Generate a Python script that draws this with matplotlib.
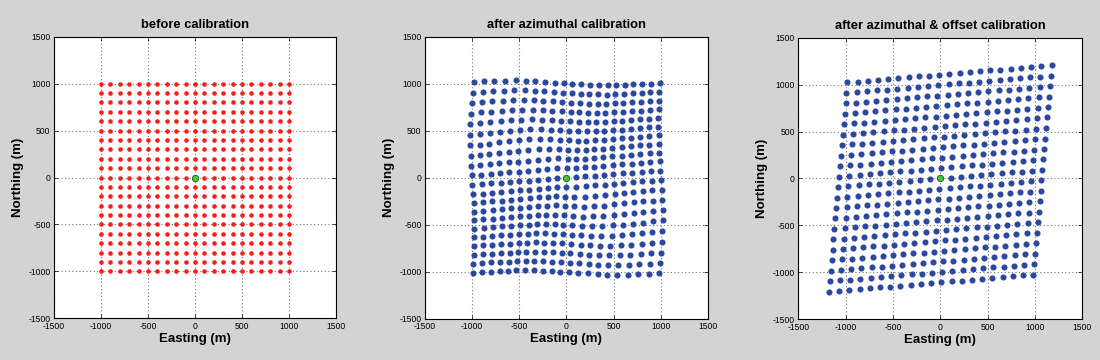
import numpy as np
import matplotlib
matplotlib.use("Agg")
import matplotlib.pyplot as plt

plt.rcParams.update({"font.family": "Liberation Sans", "axes.unicode_minus": False})

BG = "#d3d3d3"
RED = "#ff1a1a"
BLUE = "#2b479f"
GREEN = "#4cbf3c"

# receiver grid before calibration (m)
grid_x = [-1000, -900, -800, -700, -600, -500, -400, -300, -200, -100, 0,
          100, 200, 300, 400, 500, 600, 700, 800, 900, 1000]
grid_y = [1000, 900, 800, 700, 600, 500, 400, 300, 200, 100, 0,
          -100, -200, -300, -400, -500, -600, -700, -800, -900, -1000]

# after azimuthal calibration, one list per grid row (top to bottom)
az_x = [
    [-983, -872, -764, -650, -538, -431, -331, -230, -126, -28, 64, 156, 250, 347, 438, 531, 617, 709, 800, 898, 990],
    [-995, -885, -774, -665, -552, -442, -338, -237, -134, -35, 57, 150, 244, 340, 431, 521, 610, 702, 798, 891, 986],
    [-1002, -896, -787, -676, -566, -453, -345, -245, -142, -42, 51, 143, 239, 332, 424, 512, 603, 699, 792, 887, 983],
    [-1012, -904, -798, -688, -578, -467, -355, -252, -150, -49, 45, 137, 233, 325, 415, 505, 599, 693, 788, 884, 980],
    [-1019, -913, -806, -699, -590, -480, -368, -258, -158, -56, 38, 131, 226, 318, 407, 500, 594, 689, 785, 881, 977],
    [-1022, -918, -814, -707, -600, -492, -382, -269, -166, -63, 32, 125, 219, 309, 400, 495, 590, 686, 782, 879, 977],
    [-1021, -920, -818, -714, -609, -501, -393, -283, -172, -71, 25, 119, 212, 302, 396, 491, 587, 684, 782, 880, 978],
    [-1017, -917, -816, -715, -613, -509, -403, -295, -184, -79, 19, 113, 203, 297, 392, 489, 586, 684, 782, 881, 980],
    [-1012, -912, -812, -711, -611, -511, -409, -304, -197, -86, 13, 106, 198, 294, 391, 489, 587, 686, 785, 885, 984],
    [-1005, -905, -805, -705, -606, -506, -406, -306, -204, -98, 6, 99, 195, 294, 393, 492, 591, 691, 790, 890, 989],
    [-997, -897, -798, -698, -598, -499, -399, -299, -199, -100, 0, 100, 199, 299, 399, 499, 598, 698, 798, 897, 997],
    [-989, -890, -790, -691, -591, -492, -393, -294, -195, -99, -6, 98, 204, 306, 406, 506, 606, 705, 805, 905, 1005],
    [-984, -885, -785, -686, -587, -489, -391, -294, -198, -106, -13, 86, 197, 304, 409, 511, 611, 711, 812, 912, 1012],
    [-980, -881, -782, -684, -586, -489, -392, -297, -203, -113, -19, 79, 184, 295, 403, 509, 613, 715, 816, 917, 1017],
    [-978, -880, -782, -684, -587, -491, -396, -302, -212, -119, -25, 71, 172, 283, 393, 501, 609, 714, 818, 920, 1021],
    [-977, -879, -782, -686, -590, -495, -400, -309, -219, -125, -32, 63, 166, 269, 382, 492, 600, 707, 814, 918, 1022],
    [-977, -881, -785, -689, -594, -500, -407, -318, -226, -131, -38, 56, 158, 258, 368, 480, 590, 699, 806, 913, 1019],
    [-980, -884, -788, -693, -599, -505, -415, -325, -233, -137, -45, 49, 150, 252, 355, 467, 578, 688, 798, 904, 1012],
    [-983, -887, -792, -699, -603, -512, -424, -332, -239, -143, -51, 42, 142, 245, 345, 453, 566, 676, 787, 896, 1002],
    [-986, -891, -798, -702, -610, -521, -431, -340, -244, -150, -57, 35, 134, 237, 338, 442, 552, 665, 774, 885, 995],
    [-990, -898, -800, -709, -617, -531, -438, -347, -250, -156, -64, 28, 126, 230, 331, 431, 538, 650, 764, 872, 983],
]
az_y = [
    [1016, 1025, 1027, 1033, 1035, 1032, 1025, 1018, 1012, 1005, 998, 993, 989, 985, 984, 984, 989, 994, 1000, 1002, 1010],
    [905, 915, 923, 926, 930, 930, 925, 919, 912, 905, 898, 893, 889, 886, 885, 888, 893, 899, 902, 909, 916],
    [797, 804, 813, 820, 824, 827, 825, 819, 812, 805, 798, 793, 789, 787, 787, 792, 797, 801, 808, 815, 821],
    [683, 695, 703, 711, 718, 723, 724, 719, 712, 705, 699, 694, 690, 689, 691, 696, 701, 707, 714, 720, 728],
    [568, 580, 592, 601, 610, 616, 620, 619, 612, 606, 599, 594, 591, 590, 595, 600, 606, 613, 620, 628, 636],
    [453, 465, 477, 489, 500, 508, 514, 517, 512, 506, 499, 494, 492, 495, 500, 505, 512, 519, 527, 535, 543],
    [343, 353, 362, 375, 387, 399, 407, 412, 413, 406, 399, 395, 394, 399, 404, 411, 418, 427, 435, 443, 452],
    [236, 244, 253, 262, 272, 284, 296, 305, 310, 306, 299, 295, 298, 303, 310, 318, 326, 335, 343, 352, 361],
    [127, 136, 145, 154, 163, 171, 181, 193, 203, 206, 200, 197, 202, 209, 217, 226, 235, 243, 252, 260, 268],
    [25, 33, 40, 48, 56, 63, 73, 81, 91, 102, 100, 101, 109, 117, 126, 134, 143, 151, 159, 168, 176],
    [-76, -68, -61, -53, -46, -38, -30, -23, -15, -8, 0, 8, 15, 23, 30, 38, 46, 53, 61, 68, 76],
    [-176, -168, -159, -151, -143, -134, -126, -117, -109, -101, -100, -102, -91, -81, -73, -63, -56, -48, -40, -33, -25],
    [-268, -260, -252, -243, -235, -226, -217, -209, -202, -197, -200, -206, -203, -193, -181, -171, -163, -154, -145, -136, -127],
    [-361, -352, -343, -335, -326, -318, -310, -303, -298, -295, -299, -306, -310, -305, -296, -284, -272, -262, -253, -244, -236],
    [-452, -443, -435, -427, -418, -411, -404, -399, -394, -395, -399, -406, -413, -412, -407, -399, -387, -375, -362, -353, -343],
    [-543, -535, -527, -519, -512, -505, -500, -495, -492, -494, -499, -506, -512, -517, -514, -508, -500, -489, -477, -465, -453],
    [-636, -628, -620, -613, -606, -600, -595, -590, -591, -594, -599, -606, -612, -619, -620, -616, -610, -601, -592, -580, -568],
    [-728, -720, -714, -707, -701, -696, -691, -689, -690, -694, -699, -705, -712, -719, -724, -723, -718, -711, -703, -695, -683],
    [-821, -815, -808, -801, -797, -792, -787, -787, -789, -793, -798, -805, -812, -819, -825, -827, -824, -820, -813, -804, -797],
    [-916, -909, -902, -899, -893, -888, -885, -886, -889, -893, -898, -905, -912, -919, -925, -930, -930, -926, -923, -915, -905],
    [-1010, -1002, -1000, -994, -989, -984, -984, -985, -989, -993, -998, -1005, -1012, -1018, -1025, -1032, -1035, -1033, -1027, -1025, -1016],
]

# after azimuthal & offset calibration, one list per grid row (top to bottom)
off_x = [
    [-982, -874, -766, -658, -550, -442, -335, -227, -119, -11, 97, 205, 313, 421, 529, 636, 744, 852, 960, 1068, 1176],
    [-992, -884, -776, -668, -560, -452, -344, -236, -128, -21, 87, 195, 303, 411, 519, 627, 735, 843, 950, 1058, 1166],
    [-1001, -894, -786, -678, -570, -462, -354, -246, -138, -30, 78, 186, 293, 401, 509, 617, 725, 833, 941, 1049, 1157],
    [-1011, -903, -795, -687, -580, -472, -364, -256, -148, -40, 68, 176, 284, 392, 500, 607, 715, 823, 931, 1039, 1147],
    [-1021, -913, -805, -697, -589, -481, -373, -266, -158, -50, 58, 166, 274, 382, 490, 598, 706, 814, 921, 1029, 1137],
    [-1031, -923, -815, -707, -599, -491, -383, -275, -167, -59, 48, 156, 264, 372, 480, 588, 696, 804, 912, 1020, 1128],
    [-1040, -932, -824, -716, -609, -501, -393, -285, -177, -69, 39, 147, 255, 362, 470, 578, 686, 794, 902, 1010, 1118],
    [-1050, -942, -834, -726, -618, -510, -402, -295, -187, -79, 29, 137, 245, 353, 461, 569, 676, 784, 892, 1000, 1108],
    [-1060, -952, -844, -736, -628, -520, -412, -304, -196, -88, 19, 127, 235, 343, 451, 559, 667, 775, 883, 990, 1098],
    [-1069, -961, -853, -746, -638, -530, -422, -314, -206, -98, 10, 118, 225, 333, 441, 549, 657, 765, 873, 981, 1089],
    [-1079, -971, -863, -755, -647, -540, -432, -324, -216, -108, 0, 108, 216, 324, 432, 540, 647, 755, 863, 971, 1079],
    [-1089, -981, -873, -765, -657, -549, -441, -333, -225, -118, -10, 98, 206, 314, 422, 530, 638, 746, 853, 961, 1069],
    [-1098, -990, -883, -775, -667, -559, -451, -343, -235, -127, -19, 88, 196, 304, 412, 520, 628, 736, 844, 952, 1060],
    [-1108, -1000, -892, -784, -676, -569, -461, -353, -245, -137, -29, 79, 187, 295, 402, 510, 618, 726, 834, 942, 1050],
    [-1118, -1010, -902, -794, -686, -578, -470, -362, -255, -147, -39, 69, 177, 285, 393, 501, 609, 716, 824, 932, 1040],
    [-1128, -1020, -912, -804, -696, -588, -480, -372, -264, -156, -48, 59, 167, 275, 383, 491, 599, 707, 815, 923, 1031],
    [-1137, -1029, -921, -814, -706, -598, -490, -382, -274, -166, -58, 50, 158, 266, 373, 481, 589, 697, 805, 913, 1021],
    [-1147, -1039, -931, -823, -715, -607, -500, -392, -284, -176, -68, 40, 148, 256, 364, 472, 580, 687, 795, 903, 1011],
    [-1157, -1049, -941, -833, -725, -617, -509, -401, -293, -186, -78, 30, 138, 246, 354, 462, 570, 678, 786, 894, 1001],
    [-1166, -1058, -950, -843, -735, -627, -519, -411, -303, -195, -87, 21, 128, 236, 344, 452, 560, 668, 776, 884, 992],
    [-1176, -1068, -960, -852, -744, -636, -529, -421, -313, -205, -97, 11, 119, 227, 335, 442, 550, 658, 766, 874, 982],
]
off_y = [
    [1023, 1032, 1041, 1051, 1060, 1069, 1078, 1087, 1097, 1106, 1115, 1124, 1133, 1143, 1152, 1161, 1170, 1179, 1189, 1198, 1207],
    [912, 921, 930, 939, 948, 958, 967, 976, 985, 994, 1004, 1013, 1022, 1031, 1040, 1050, 1059, 1068, 1077, 1086, 1096],
    [800, 809, 818, 828, 837, 846, 855, 864, 874, 883, 892, 901, 910, 920, 929, 938, 947, 956, 966, 975, 984],
    [689, 698, 707, 716, 725, 735, 744, 753, 762, 771, 781, 790, 799, 808, 817, 827, 836, 845, 854, 863, 873],
    [577, 586, 595, 605, 614, 623, 632, 641, 651, 660, 669, 678, 687, 697, 706, 715, 724, 733, 743, 752, 761],
    [466, 475, 484, 493, 502, 512, 521, 530, 539, 548, 558, 567, 576, 585, 594, 604, 613, 622, 631, 640, 650],
    [354, 363, 372, 382, 391, 400, 409, 418, 428, 437, 446, 455, 464, 474, 483, 492, 501, 510, 520, 529, 538],
    [242, 252, 261, 270, 279, 288, 298, 307, 316, 325, 334, 344, 353, 362, 371, 380, 390, 399, 408, 417, 426],
    [131, 140, 149, 159, 168, 177, 186, 195, 205, 214, 223, 232, 241, 251, 260, 269, 278, 287, 297, 306, 315],
    [20, 29, 38, 47, 56, 66, 75, 84, 93, 102, 112, 121, 130, 139, 148, 158, 167, 176, 185, 194, 204],
    [-92, -83, -74, -64, -55, -46, -37, -28, -18, -9, 0, 9, 18, 28, 37, 46, 55, 64, 74, 83, 92],
    [-204, -194, -185, -176, -167, -158, -148, -139, -130, -121, -112, -102, -93, -84, -75, -66, -56, -47, -38, -29, -20],
    [-315, -306, -297, -287, -278, -269, -260, -251, -241, -232, -223, -214, -205, -195, -186, -177, -168, -159, -149, -140, -131],
    [-426, -417, -408, -399, -390, -380, -371, -362, -353, -344, -334, -325, -316, -307, -298, -288, -279, -270, -261, -252, -242],
    [-538, -529, -520, -510, -501, -492, -483, -474, -464, -455, -446, -437, -428, -418, -409, -400, -391, -382, -372, -363, -354],
    [-650, -640, -631, -622, -613, -604, -594, -585, -576, -567, -558, -548, -539, -530, -521, -512, -502, -493, -484, -475, -466],
    [-761, -752, -743, -733, -724, -715, -706, -697, -687, -678, -669, -660, -651, -641, -632, -623, -614, -605, -595, -586, -577],
    [-873, -863, -854, -845, -836, -827, -817, -808, -799, -790, -781, -771, -762, -753, -744, -735, -725, -716, -707, -698, -689],
    [-984, -975, -966, -956, -947, -938, -929, -920, -910, -901, -892, -883, -874, -864, -855, -846, -837, -828, -818, -809, -800],
    [-1096, -1086, -1077, -1068, -1059, -1050, -1040, -1031, -1022, -1013, -1004, -994, -985, -976, -967, -958, -948, -939, -930, -921, -912],
    [-1207, -1198, -1189, -1179, -1170, -1161, -1152, -1143, -1133, -1124, -1115, -1106, -1097, -1087, -1078, -1069, -1060, -1051, -1041, -1032, -1023],
]

# reference station
ref_x = [0]
ref_y = [0]

titles = ["before calibration", "after azimuthal calibration",
          "after azimuthal & offset calibration"]
ticks = [-1500, -1000, -500, 0, 500, 1000, 1500]

gx, gy = np.meshgrid(grid_x, grid_y)
panels = [(gx, gy, RED, 3.3),
          (np.array(az_x), np.array(az_y), BLUE, 4.4),
          (np.array(off_x), np.array(off_y), BLUE, 4.4)]

fig = plt.figure(figsize=(11, 3.6), dpi=100, facecolor=BG)
boxes = [[0.0491, 0.1158, 0.2564, 0.7822],
         [0.3864, 0.1147, 0.2570, 0.7833],
         [0.7257, 0.1131, 0.2582, 0.7822]]

for box, title, (xx, yy, col, ms) in zip(boxes, titles, panels):
    ax = fig.add_axes(box)
    ax.plot(xx.ravel(), yy.ravel(), "o", color=col, ms=ms, mew=0, zorder=3)
    ax.plot(ref_x, ref_y, "o", color=GREEN, ms=4.6, mec="#1d5c1d", mew=0.6, zorder=4)
    ax.set_xlim(-1500, 1500)
    ax.set_ylim(-1500, 1500)
    ax.set_xticks(ticks)
    ax.set_yticks(ticks)
    ax.grid(True, color="0.45", lw=0.8, ls=(0, (1, 2.2)))
    ax.set_axisbelow(True)
    ax.tick_params(direction="in", length=3, width=0.5, labelsize=6.2, pad=2.5,
                   top=True, right=True)
    for s in ax.spines.values():
        s.set_linewidth(0.8)
    ax.set_title(title, fontsize=9.3, fontweight="bold", pad=6)
    ax.set_xlabel("Easting (m)", fontsize=9.5, fontweight="bold", labelpad=1.5)
    ax.set_ylabel("Northing (m)", fontsize=9.5, fontweight="bold", labelpad=3)

fig.savefig("out.png", dpi=100, facecolor=BG)
